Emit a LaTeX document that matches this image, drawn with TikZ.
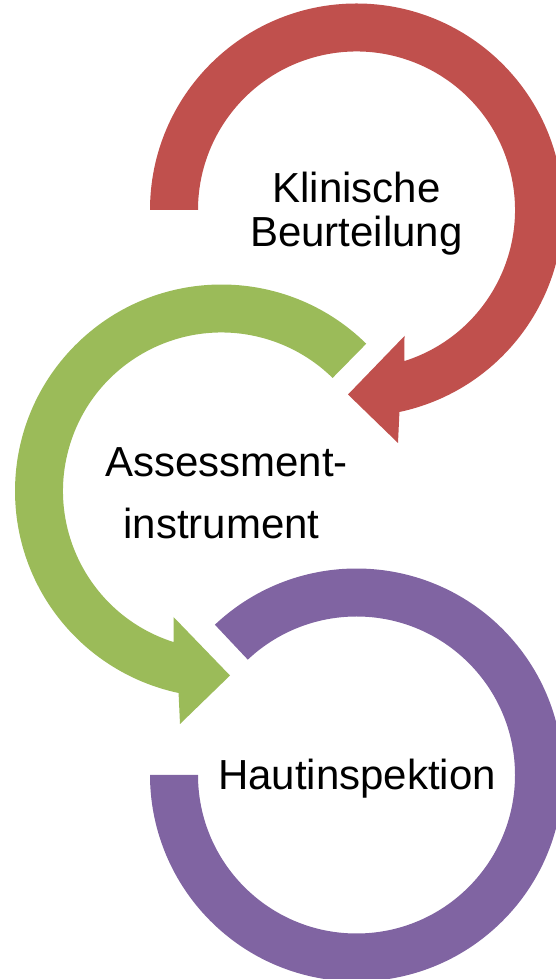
\documentclass[tikz,border=0pt]{standalone}
\usepackage{fontspec}
\setmainfont{Liberation Sans}
\definecolor{redc}{HTML}{C0504D}
\definecolor{greenc}{HTML}{9BBB59}
\definecolor{purplec}{HTML}{8064A2}
\tikzset{
  lbl/.style={inner sep=0pt, anchor=base, font=\fontsize{42}{44}\selectfont, text=black},
}
\begin{document}
\begin{tikzpicture}[x=1pt,y=1pt]
\useasboundingbox (0,0) rectangle (555,979);
\coordinate (cr) at (356.5,769);
\coordinate (cg) at (221.5,488);
\coordinate (cp) at (356.5,204);
% red arrow (clockwise)
\begin{scope}[shift={(cr)}]
\fill[redc] (180:206.5) arc[start angle=180, end angle=-78, radius=206.5]
  -- (41.5,-233) -- (-8.5,-184.5) -- (48,-126) -- (-72.4:158.5)
  arc[start angle=-72.4, end angle=180, radius=158.5] -- cycle;
\end{scope}
% green arrow (counter-clockwise)
\begin{scope}[shift={(cg)}]
\fill[greenc] (45.5:206.5) arc[start angle=45.5, end angle=258, radius=206.5]
  -- (-41.5,-233) -- (8.5,-184.5) -- (-48,-126) -- (252.4:158.5)
  arc[start angle=252.4, end angle=45.5, radius=158.5] -- cycle;
\end{scope}
% purple ring segment
\begin{scope}[shift={(cp)}]
\fill[purplec] (133.3:206.5) arc[start angle=133.3, end angle=-180, radius=206.5]
  -- (180:158.5) arc[start angle=-180, end angle=133.3, radius=158.5] -- cycle;
\end{scope}
% labels
\node[lbl] (k1) at (356.5,776) {Klinische};
\node[lbl] (k2) at (356.5,732.3) {Beurteilung};
\node[lbl] (a1) at (226.5,502.3) {Assessment-};
\node[lbl] (a2) at (221.5,440.7) {instrument};
\node[lbl] (h1) at (357,189) {Hautinspektion};
\end{tikzpicture}
\end{document}
